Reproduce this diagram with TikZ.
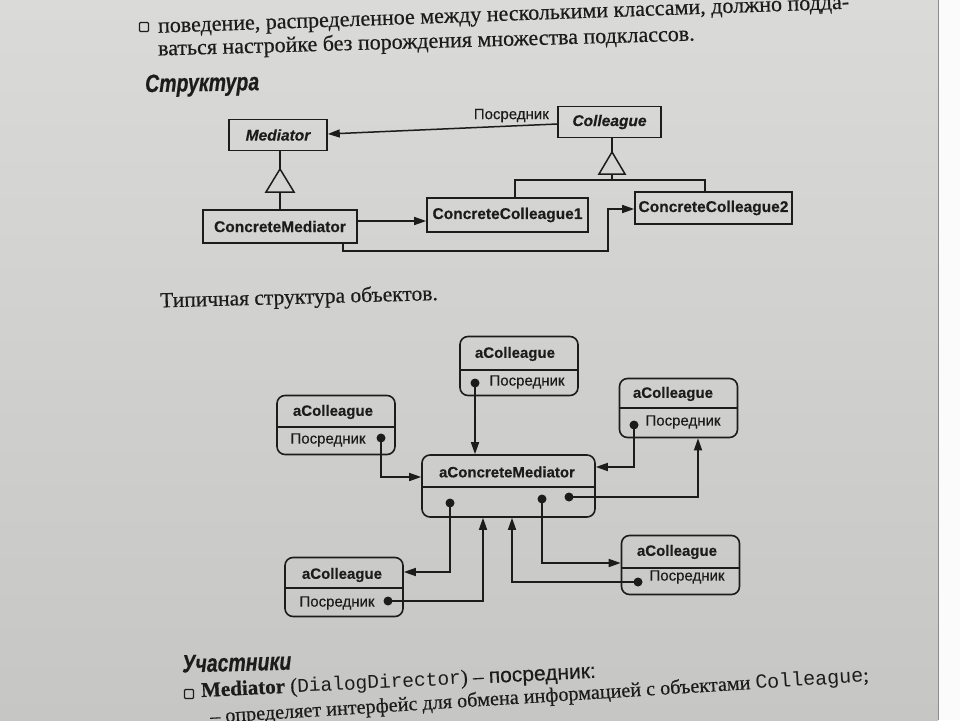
\documentclass[tikz,border=0pt]{standalone}
\usepackage{fontspec}
\setmainfont{Liberation Serif}
\setsansfont{Liberation Sans}
\setmonofont{Liberation Mono}
\newfontfamily\bodyfont{Liberation Serif}[FakeBold=0.5]
\newfontfamily\headfont{Liberation Sans}[FakeStretch=0.78, FakeBold=0.5]
\newfontfamily\diagfont{Liberation Sans}[FakeBold=0.35]
\newfontfamily\codefont{Liberation Mono}
\usetikzlibrary{arrows.meta}
\definecolor{paper}{RGB}{218,219,217}
\definecolor{paperlow}{RGB}{198,199,197}
\definecolor{ink}{RGB}{28,28,28}
\begin{document}
\begin{tikzpicture}[x=1pt,y=-1pt,
  every node/.style={text=ink},
  classbox/.style={draw=ink, line width=1.6pt, inner sep=0pt, minimum height=31pt,
    font=\diagfont\bfseries\fontsize{15.5}{18}\selectfont},
  objbox/.style={draw=ink, line width=1.6pt, rounded corners=8pt, inner sep=0pt,
    minimum width=118pt, minimum height=59pt},
  divider/.style={draw=ink, line width=1.4pt},
  objtitle/.style={font=\diagfont\bfseries\fontsize{15}{18}\selectfont, inner sep=0pt},
  slot/.style={font=\diagfont\fontsize{15}{18}\selectfont, inner sep=0pt},
  dot/.style={circle, fill=ink, inner sep=0pt, minimum size=9pt},
  link/.style={draw=ink, line width=1.5pt, -{Triangle[length=12pt,width=8pt]}},
  wire/.style={draw=ink, line width=1.5pt},
  hollow/.style={draw=ink, line width=1.5pt, line join=miter},
  body/.style={font=\bodyfont\fontsize{22}{25}\selectfont, anchor=west, inner sep=0pt},
  heading/.style={font=\headfont\bfseries\itshape\fontsize{25}{28}\selectfont, anchor=west, inner sep=0pt},
  bullet/.style={draw=ink, line width=1.1pt, rounded corners=1pt, minimum size=9pt, inner sep=0pt},
]
\useasboundingbox (0,0) rectangle (960,720);

% page
\shade[top color=paper, bottom color=paperlow] (0,0) rectangle (938,720);
\fill[white!90!paper] (938,0) rectangle (960,720);
\draw[black!45, line width=1pt] (938,0) -- (938,720);

% running text above the diagram
\node[bullet] (b1) at (144,27) {};
\node[body, rotate=2] (t1) at (158,30) {поведение, распределенное между несколькими классами, должно подда-};
\node[body, rotate=1.6] (t2) at (158,50) {ваться настройке без порождения множества подклассов.};

\node[heading, rotate=1] (h1) at (145,86) {Структура};

% ---------------- class structure ----------------
\node[classbox, minimum width=98pt, font=\diagfont\bfseries\itshape\fontsize{15.5}{18}\selectfont] (med) at (278,135) {Mediator};
\node[classbox, minimum width=103pt, font=\diagfont\bfseries\itshape\fontsize{15.5}{18}\selectfont] (col) at (609.5,122) {Colleague};
\node[classbox, minimum width=154pt, minimum height=33pt] (cmed) at (280,226.5) {ConcreteMediator};
\node[classbox, minimum width=161pt, minimum height=34pt] (cc1) at (507.5,215) {ConcreteColleague1};
\node[classbox, minimum width=157pt, minimum height=32pt] (cc2) at (713.5,208) {ConcreteColleague2};

% association Colleague -> Mediator
\draw[link] (col.west |- 0,124) -- node[pos=0.2, above=3pt, slot] (lbl) {Посредник} (med.east |- 0,134);

% Mediator generalisation
\coordinate (mtip) at (280,169);
\draw[wire] (med.south -| mtip) -- (mtip);
\draw[hollow] (mtip) -- ++(-14,23) -- ++(28,0) -- cycle;
\draw[wire] (mtip |- 0,192) -- (cmed.north -| mtip);

% Colleague generalisation
\coordinate (ctip) at (612,152);
\draw[wire] (col.south -| ctip) -- (ctip);
\draw[hollow] (ctip) -- ++(-13,22) -- ++(26,0) -- cycle;
\draw[wire] (ctip |- 0,174) -- (ctip |- 0,180);
\draw[wire] (cc1.north -| 515,0) |- (ctip |- 0,180) -| (cc2.north -| 705,0);

% ConcreteMediator -> ConcreteColleague1, ConcreteColleague2
\draw[link] (cmed.east |- 0,221) -- (cc1.west |- 0,221);
\draw[link] (cmed.south -| 343,0) |- (608,251) |- (cc2.west |- 0,209);

\node[body, rotate=1.5, font=\bodyfont\fontsize{21.5}{25}\selectfont] (t3) at (160,302) {Типичная структура объектов.};

% ---------------- object structure ----------------
% top colleague
\node[objbox] (tc) at (519,366) {};
\draw[divider] (tc.west |- 0,370) -- (tc.east |- 0,370);
\node[objtitle] (tct) at (515,354) {aColleague};
\node[slot] (tcs) at (527,382) {Посредник};
\node[dot] (tcd) at (475,383) {};

% left colleague
\node[objbox] (lc) at (336,425) {};
\draw[divider] (lc.west |- 0,427) -- (lc.east |- 0,427);
\node[objtitle] (lct) at (333,412) {aColleague};
\node[slot] (lcs) at (328,440) {Посредник};
\node[dot] (lcd) at (381,438) {};

% right colleague
\node[objbox] (rc) at (678.5,408) {};
\draw[divider] (rc.west |- 0,408) -- (rc.east |- 0,408);
\node[objtitle] (rct) at (673,394) {aColleague};
\node[slot] (rcs) at (683,422) {Посредник};
\node[dot] (rcd) at (634,425) {};

% mediator
\node[objbox, minimum width=173pt, minimum height=62pt] (m) at (508.5,486) {};
\draw[divider] (m.west |- 0,487) -- (m.east |- 0,487);
\node[objtitle] (mt) at (507,472) {aConcreteMediator};
\node[dot] (m1) at (450,503) {};
\node[dot] (m2) at (542,499) {};
\node[dot] (m3) at (569,497) {};

% bottom left colleague
\node[objbox] (bl) at (344,587) {};
\draw[divider] (bl.west |- 0,588) -- (bl.east |- 0,588);
\node[objtitle] (blt) at (342,575) {aColleague};
\node[slot] (bls) at (337,603) {Посредник};
\node[dot] (bld) at (388,601) {};

% bottom right colleague
\node[objbox] (br) at (680.5,565) {};
\draw[divider] (br.west |- 0,568) -- (br.east |- 0,568);
\node[objtitle] (brt) at (677,552) {aColleague};
\node[slot] (brs) at (687,577) {Посредник};
\node[dot] (brd) at (638,582) {};

% references
\draw[link] (tcd.center) -- (tcd |- m.north);
\draw[link] (lcd.center) |- (m.west |- 0,477);
\draw[link] (rcd.center) |- (m.east |- 0,467);
\draw[link] (m3.center) -| (rc.south -| 698,0);
\draw[link] (m1.center) |- (bl.east |- 0,572);
\draw[link] (bld.center) -| (m.south -| 483,0);
\draw[link] (m2.center) |- (br.west |- 0,563);
\draw[link] (brd.center) -| (m.south -| 512,0);

% participants
\node[heading, rotate=1.5] (h2) at (182,664) {Участники};
\node[bullet] (b2) at (189,694) {};
\node[body, rotate=2.8, font=\bodyfont\fontsize{21}{25}\selectfont] (t4) at (201,692) {{\bfseries Mediator} ({\codefont\fontsize{19.5}{22}\selectfont DialogDirector}) – {\diagfont посредник:}};
\node[body, rotate=3.6, font=\bodyfont\fontsize{20.2}{24}\selectfont] (t5) at (210,718) {– определяет интерфейс для обмена информацией с объектами {\codefont\fontsize{20}{22}\selectfont Colleague};};
\end{tikzpicture}
\end{document}
